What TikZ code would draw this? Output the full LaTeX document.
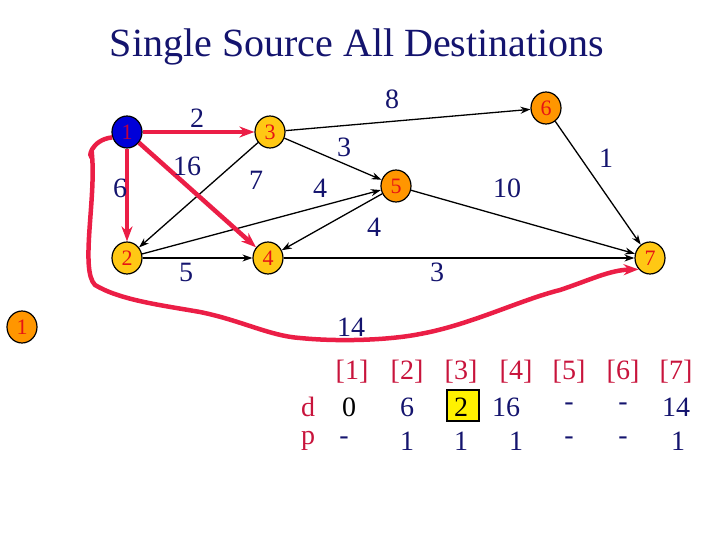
\documentclass[tikz,border=0pt]{standalone}
\usepackage{fontspec}
\setmainfont{Liberation Serif}
\usetikzlibrary{arrows.meta,shapes.geometric}
\definecolor{navy}{RGB}{20,20,110}
\definecolor{nred}{RGB}{230,20,20}
\definecolor{hred}{RGB}{200,20,60}
\definecolor{gold}{RGB}{255,200,20}
\definecolor{orng}{RGB}{255,150,0}
\definecolor{pred}{RGB}{235,30,70}
\begin{document}
\begin{tikzpicture}[x=1pt,y=-1pt,
  vert/.style={ellipse,draw=black,line width=1.2pt,fill=gold,minimum width=30pt,minimum height=32pt,inner sep=0pt,text=nred,font=\fontsize{22}{22}\selectfont},
  wt/.style={text=navy,font=\fontsize{28}{28}\selectfont,inner sep=0pt},
  tb/.style={font=\fontsize{28}{28}\selectfont,inner sep=0pt,text=navy},
  th/.style={font=\fontsize{28}{28}\selectfont,inner sep=0pt,text=hred},
  e/.style={-{Stealth[length=10pt,width=7pt]},line width=1.3pt},
  re/.style={-{Stealth[length=15pt,width=11pt]},line width=4.5pt,draw=pred}]
\useasboundingbox (0,0) rectangle (720,540);
\node[text=navy,font=\fontsize{40}{40}\selectfont] (title) at (357,47) {Single Source All Destinations};
\node[vert,fill=blue!85!black,text=purple] (n1) at (127,132) {1};
\node[vert] (n3) at (270,132) {3};
\node[vert,fill=orng] (n6) at (546,108) {6};
\node[vert,fill=orng] (n5) at (396,186) {5};
\node[vert] (n2) at (127,258) {2};
\node[vert] (n4) at (268,258) {4};
\node[vert] (n7) at (650,258) {7};
\node[vert,fill=orng] (n1b) at (22,327) {1};
\draw[e] (n3) -- (n6);
\draw[e] (n3) -- (n5);
\draw[e] (n3) -- (n2);
\draw[e] (n2) -- (n5);
\draw[e] (n5) -- (n4);
\draw[e] (n5) -- (n7);
\draw[e] (n6) -- (n7);
\draw[e] (n2) -- (n4);
\draw[e] (n4) -- (n7);
\draw[re] (n1) -- (n3);
\draw[re] (n1) -- (n2);
\draw[re] (n1) -- (n4);
\coordinate (c1) at (92,155);
\coordinate (c2) at (95,285);
\coordinate (c3) at (200,312);
\coordinate (c4) at (300,338);
\coordinate (c5) at (420,334);
\coordinate (c6) at (560,290);
\draw[re] (n1.200) .. controls (90,140) and (88,160) .. (c1)
  .. controls (96,200) and (80,270) .. (c2)
  .. controls (120,300) and (160,305) .. (c3)
  .. controls (240,320) and (270,336) .. (c4)
  .. controls (340,342) and (390,340) .. (c5)
  .. controls (470,325) and (520,300) .. (c6)
  .. controls (590,280) and (610,270) .. (n7.225);
\node[wt] (w1) at (197,118) {2};
\node[wt] (w2) at (187,166) {16};
\node[wt] (w3) at (120,188) {6};
\node[wt] (w4) at (256,180) {7};
\node[wt] (w5) at (344,147) {3};
\node[wt] (w6) at (320,188) {4};
\node[wt] (w7) at (392,99) {8};
\node[wt] (w8) at (606,158) {1};
\node[wt] (w9) at (507,188) {10};
\node[wt] (w10) at (374,227) {4};
\node[wt] (w11) at (186,272) {5};
\node[wt] (w12) at (437,272) {3};
\node[wt] (w13) at (351,327) {14};
\draw[line width=1.3pt,fill=yellow] (447,390) rectangle (479,421);
\foreach \x/\t [count=\i] in {352/1,407/2,461/3,516/4,569/5,623/6,676/7}
  \node[th] (h\i) at (\x,372) {[\t]};
\node[th] (dl) at (308,407) {d};
\node[th] (pl) at (308,441) {p};
\node[tb,text=black] (d1) at (349,407) {0};
\node[tb] (d2) at (407,407) {6};
\node[tb,text=black] (d3) at (461,407) {2};
\node[tb] (d4) at (506,407) {16};
\node[tb] (d5) at (569,407) {-};
\node[tb] (d6) at (623,407) {-};
\node[tb] (d7) at (676,407) {14};
\node[tb] (p1) at (344,441) {-};
\node[tb] (p2) at (407,441) {1};
\node[tb] (p3) at (461,441) {1};
\node[tb] (p4) at (516,441) {1};
\node[tb] (p5) at (569,441) {-};
\node[tb] (p6) at (623,441) {-};
\node[tb] (p7) at (678,441) {1};
\end{tikzpicture}
\end{document}
